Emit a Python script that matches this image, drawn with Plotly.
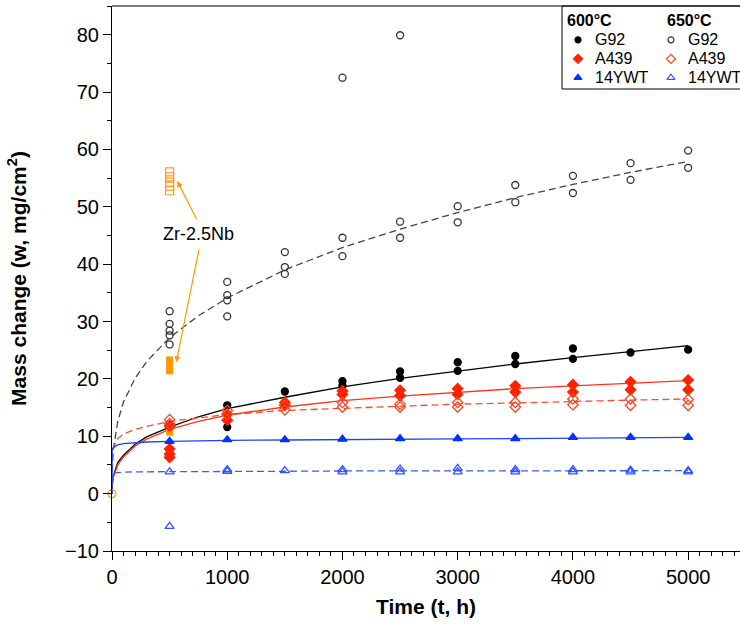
import plotly.graph_objects as go

# measured points (time in h, mass change in mg/cm2)
g92_600_t = [500, 1000, 1000, 1500, 2000, 2000, 2500, 2500, 3000, 3000, 3500, 3500, 4000, 4000, 4500, 5000]
g92_600_w = [12.0, 15.4, 11.6, 17.8, 19.6, 18.8, 21.3, 20.2, 22.9, 21.4, 24.0, 22.6, 25.3, 23.5, 24.6, 25.1]

g92_650_t = [500, 500, 500, 500, 500, 1000, 1000, 1000, 1000, 1500, 1500, 1500, 2000, 2000, 2000,
             2500, 2500, 2500, 3000, 3000, 3500, 3500, 4000, 4000, 4500, 4500, 5000, 5000]
g92_650_w = [31.8, 29.6, 28.4, 27.6, 26.0, 36.9, 34.6, 33.7, 30.9, 42.1, 39.5, 38.3, 72.5, 44.6, 41.4,
             79.9, 47.4, 44.6, 50.1, 47.3, 53.8, 50.8, 55.4, 52.4, 57.6, 54.7, 59.8, 56.8]

a439_600_t = [500, 500, 500, 500, 1000, 1000, 1500, 1500, 2000, 2000, 2500, 2500, 3000, 3000,
              3500, 3500, 4000, 4000, 4500, 4500, 5000, 5000]
a439_600_w = [11.8, 7.8, 6.9, 6.3, 13.9, 12.8, 15.9, 15.4, 17.9, 17.3, 18.0, 17.1, 18.3, 17.3,
              18.8, 17.7, 19.0, 17.7, 19.5, 18.1, 19.8, 18.1]

a439_650_t = [500, 500, 1000, 1000, 1500, 1500, 2000, 2000, 2500, 2500, 3000, 3000,
              3500, 3500, 4000, 4000, 4500, 4500, 5000, 5000]
a439_650_w = [12.9, 12.2, 14.5, 13.8, 15.4, 14.6, 15.9, 15.1, 15.6, 15.1, 15.9, 15.1,
              15.9, 15.1, 16.5, 15.5, 16.5, 15.4, 16.4, 15.4]

ywt_600_t = [500, 1000, 1500, 2000, 2500, 3000, 3500, 4000, 4500, 5000]
ywt_600_w = [9.1, 9.4, 9.4, 9.5, 9.6, 9.6, 9.6, 9.8, 9.8, 9.8]

ywt_650_t = [500, 500, 1000, 1000, 1500, 2000, 2000, 2500, 2500, 3000, 3000,
             3500, 3500, 4000, 4000, 4500, 4500, 5000, 5000]
ywt_650_w = [3.8, -5.7, 4.2, 3.9, 4.0, 4.2, 3.8, 4.3, 3.8, 4.4, 3.8,
             4.2, 3.8, 4.2, 3.8, 4.1, 3.8, 4.0, 3.8]

zr_600_t = [500, 500, 500, 500]
zr_600_w = [23.3, 22.3, 21.4, 10.7]
zr_650_t = [0, 500, 500, 500, 500, 500]
zr_650_w = [0.0, 56.1, 55.2, 54.3, 53.6, 52.8]

# fitted curves
fit_t = [0, 1, 10, 50, 100, 200, 300, 500, 750, 1000, 1500, 2000, 2500, 3000, 3500, 4000, 4500, 5000]
fit_g92_600 = [0, 1.3, 3.0, 5.4, 6.7, 8.6, 9.9, 11.6, 13.4, 14.8, 16.8, 18.6, 20.1, 21.4, 22.6, 23.7, 24.8, 25.8]
fit_g92_650 = [0, 3.5, 7.5, 12.6, 16.0, 20.1, 23.0, 27.2, 31.0, 34.1, 39.0, 42.9, 46.1, 49.0, 51.6, 53.9, 56.0, 57.9]
fit_a439_600 = [0, 1.2, 2.8, 5.0, 6.4, 8.3, 9.5, 11.2, 12.6, 13.7, 15.1, 16.2, 17.0, 17.7, 18.3, 18.8, 19.3, 19.7]
fit_a439_650 = [0, 6.1, 7.9, 9.6, 10.4, 11.2, 11.7, 12.6, 13.2, 13.8, 14.5, 14.9, 15.3, 15.6, 15.8, 16.1, 16.3, 16.5]
fit_ywt_600 = [0, 7.5, 8.0, 8.5, 8.7, 8.9, 9.0, 9.1, 9.2, 9.3, 9.35, 9.45, 9.5, 9.55, 9.6, 9.7, 9.75, 9.8]
fit_ywt_650 = [0, 3.4, 3.6, 3.7, 3.75, 3.8, 3.8, 3.85, 3.9, 3.9, 3.9, 3.95, 3.95, 4.0, 4.0, 4.0, 4.0, 4.0]

alloys = ["G92", "A439", "14YWT"]
temps = ["600°C", "650°C"]

FONT = "Liberation Sans"

fig = go.Figure()

# fit lines first so markers sit on top
fits = [
    (fit_g92_650, "#444444", "7px,4px"),
    (fit_g92_600, "#000000", "solid"),
    (fit_a439_650, "#ff4a2a", "7px,4px"),
    (fit_a439_600, "#ff3318", "solid"),
    (fit_ywt_650, "#3a5cff", "7px,4px"),
    (fit_ywt_600, "#1a44ff", "solid"),
]
for ys, col, dash in fits:
    fig.add_trace(go.Scatter(x=fit_t, y=ys, mode="lines", showlegend=False,
                             line=dict(color=col, width=1.3, dash=dash), hoverinfo="skip"))

# Zr-2.5Nb
fig.add_trace(go.Scatter(x=zr_650_t, y=zr_650_w, mode="markers", showlegend=False, cliponaxis=False,
                         marker=dict(symbol=["circle-open"] + ["square-open"] * 5, size=8,
                                     color="#ff9a1a", line=dict(width=1.2))))
fig.add_trace(go.Scatter(x=zr_600_t, y=zr_600_w, mode="markers", showlegend=False, cliponaxis=False,
                         marker=dict(symbol="square", size=7, color="#ff9900")))

styles = [
    ("circle", 7, "#000000"), ("diamond", 8, "#ff2200"), ("triangle-up", 8, "#0033ff"),
    ("circle-open", 7, "#333333"), ("diamond-open", 8, "#ff4422"), ("triangle-up-open", 8, "#3355ff"),
]
data = [
    (g92_600_t, g92_600_w), (a439_600_t, a439_600_w), (ywt_600_t, ywt_600_w),
    (g92_650_t, g92_650_w), (a439_650_t, a439_650_w), (ywt_650_t, ywt_650_w),
]
for (ts, ws), (sym, sz, col) in zip(data, styles):
    fig.add_trace(go.Scatter(x=ts, y=ws, mode="markers", showlegend=False, cliponaxis=False,
                             marker=dict(symbol=sym, size=sz, color=col, line=dict(width=1.3, color=col))))

# hand-made two-column legend in the top right corner
for i, (sym, sz, col) in enumerate(styles):
    col_i, row = divmod(i, 3)
    lx = [4044, 4851][col_i]
    ly = [79.1, 75.8, 72.5][row]
    fig.add_trace(go.Scatter(x=[lx], y=[ly], mode="markers", showlegend=False,
                             cliponaxis=False, hoverinfo="skip",
                             marker=dict(symbol=sym, size=sz - 1, color=col, line=dict(width=1.2, color=col))))
    fig.add_annotation(x=lx + 130, y=ly, text=alloys[row], showarrow=False,
                       xanchor="left", yanchor="middle", font=dict(family=FONT, size=16, color="black"))
for j, t in enumerate(temps):
    fig.add_annotation(xref="paper", yref="paper", x=[0.761, 0.920][j], y=0.974, text="<b>%s</b>" % t,
                       showarrow=False, xanchor="center", yanchor="middle",
                       font=dict(family=FONT, size=16, color="black"))
fig.add_shape(type="rect", xref="paper", yref="paper", x0=0.7166, x1=1.003, y0=0.8477, y1=1.0,
              line=dict(color="black", width=1), fillcolor="rgba(0,0,0,0)")
# top frame line
fig.add_shape(type="line", xref="paper", yref="paper", x0=0, x1=1, y0=1, y1=1,
              line=dict(color="black", width=1.2))

# label and arrows for Zr-2.5Nb
fig.add_annotation(x=748, y=45.2, text="Zr-2.5Nb", showarrow=False, font=dict(family=FONT, size=18, color="black"))
fig.add_annotation(x=566, y=54.5, ax=740, ay=47.6, axref="x", ayref="y", text="", showarrow=True,
                   arrowhead=2, arrowsize=1, arrowwidth=1.2, arrowcolor="#ff9900")
fig.add_annotation(x=558, y=22.9, ax=757, ay=42.8, axref="x", ayref="y", text="", showarrow=True,
                   arrowhead=2, arrowsize=1, arrowwidth=1.2, arrowcolor="#ff9900")

fig.update_layout(
    width=740, height=624,
    margin=dict(l=112, r=0, t=6, b=73),
    plot_bgcolor="white", paper_bgcolor="white",
    font=dict(family=FONT, size=20, color="black"),
    showlegend=False,
    xaxis=dict(range=[0, 5450], tickvals=[0, 1000, 2000, 3000, 4000, 5000], automargin=False,
               showline=True, linecolor="black", linewidth=1.2, mirror=False,
               ticks="outside", ticklen=8, tickcolor="black", showgrid=False, zeroline=False,
               minor=dict(dtick=100, ticks="outside", ticklen=4, tickcolor="black", showgrid=False),
               title=dict(text="<b>Time (t, h)</b>", font=dict(family=FONT, size=21), standoff=12)),
    yaxis=dict(range=[-10, 85], tickvals=[-10, 0, 10, 20, 30, 40, 50, 60, 70, 80], automargin=False,
               showline=True, linecolor="black", linewidth=1.2, mirror=False,
               ticks="outside", ticklen=8, tickcolor="black", showgrid=False, zeroline=False,
               minor=dict(dtick=5, ticks="outside", ticklen=4, tickcolor="black", showgrid=False),
               title=dict(text="<b>Mass change (w, mg/cm<sup>2</sup>)</b>", font=dict(family=FONT, size=21),
                          standoff=32)),
)

# the page body has a default 8px margin; drop it so the figure fills the window
fig.write_html("out.html", config={"displayModeBar": False},
               post_script="document.body.style.margin='0';")
